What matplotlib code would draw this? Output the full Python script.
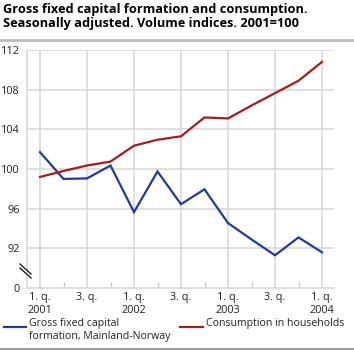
import matplotlib
matplotlib.use('Agg')
import matplotlib.pyplot as plt
from matplotlib.lines import Line2D

plt.rcParams['font.family'] = ['Open Sans', 'DejaVu Sans']

# ---- DATA ----
kvartaler = ['2001Q1', '2001Q2', '2001Q3', '2001Q4',
             '2002Q1', '2002Q2', '2002Q3', '2002Q4',
             '2003Q1', '2003Q2', '2003Q3', '2003Q4', '2004Q1']
bruttoinvestering = [101.7, 99.0, 99.05, 100.35, 95.65, 99.75, 96.45, 97.95,
                     94.55, 92.9, 91.3, 93.1, 91.6]
konsum = [99.2, 99.8, 100.35, 100.75, 102.35, 102.95, 103.3, 105.2,
          105.1, 106.4, 107.65, 108.9, 110.8]
ytick_verdier = [88, 92, 96, 100, 104, 108, 112]
ytick_tekst = ['0', '92', '96', '100', '104', '108', '112']
xtick_tekst = ['1. q.\n2001', '3. q.', '1. q.\n2002', '3. q.',
               '1. q.\n2003', '3. q.', '1. q.\n2004']

BLA = '#1f3c92'
ROD = '#a51c1c'
GRID = '#d6d6d6'
TEKST = '#222222'
FS = 7.8

fig = plt.figure(figsize=(3.54, 3.52), dpi=100)
ax = fig.add_axes([27 / 354, 64 / 352, 307 / 354, 238 / 352])

x = list(range(len(kvartaler)))
ax.plot(x, bruttoinvestering, color=BLA, linewidth=1.6, solid_joinstyle='miter')
ax.plot(x, konsum, color=ROD, linewidth=1.6, solid_joinstyle='miter')

ax.set_xlim(-13 / 23.5, 12 + 12 / 23.5)
ax.set_ylim(88, 112)

ax.set_yticks(ytick_verdier)
ax.set_yticklabels(ytick_tekst)
ax.set_xticks(x[::2])
ax.set_xticklabels(xtick_tekst, linespacing=1.25)
ax.set_xticks(x, minor=True)

for v in ytick_verdier[1:]:
    ax.axhline(v, color=GRID, linewidth=1.1, zorder=0)
for v in x[::2]:
    ax.axvline(v, color=GRID, linewidth=1.1, zorder=0)

for side in ['top', 'right']:
    ax.spines[side].set_visible(False)
for side in ['left', 'bottom']:
    ax.spines[side].set_color(GRID)
    ax.spines[side].set_linewidth(1.1)

ax.tick_params(axis='both', which='major', length=0, labelsize=FS, labelcolor=TEKST, pad=3)
ax.tick_params(axis='x', which='minor', direction='in', length=4, color='#c8c8c8', width=1.0)
ax.tick_params(axis='y', pad=5)

# brudd-markering
for dy in (0, 4):
    fig.add_artist(Line2D([20 / 354, 31 / 354],
                          [1 - (264 + dy) / 352, 1 - (274 + dy) / 352],
                          color=TEKST, linewidth=1.0))

fig.text(3 / 354, 1 - 3 / 352,
         'Gross fixed capital formation and consumption.\nSeasonally adjusted. Volume indices. 2001=100',
         fontsize=9.2, fontweight='bold', va='top', ha='left', linespacing=1.1)
fig.add_artist(Line2D([0, 1], [1 - 40 / 352, 1 - 40 / 352], color='#bbbbbb', linewidth=2))
fig.add_artist(Line2D([0, 1], [1 - 349 / 352, 1 - 349 / 352], color='#888888', linewidth=1.2))

# legende
fig.add_artist(Line2D([4 / 354, 26 / 354], [1 - 327 / 352] * 2, color=BLA, linewidth=1.6))
fig.text(29 / 354, 1 - 318 / 352, 'Gross fixed capital\nformation, Mainland-Norway',
         fontsize=7.6, va='top', ha='left', linespacing=1.3, color=TEKST)
fig.add_artist(Line2D([180 / 354, 203 / 354], [1 - 327 / 352] * 2, color=ROD, linewidth=1.6))
fig.text(206 / 354, 1 - 318 / 352, 'Consumption in households',
         fontsize=7.6, va='top', ha='left', color=TEKST)

fig.savefig('out.png', dpi=100)
